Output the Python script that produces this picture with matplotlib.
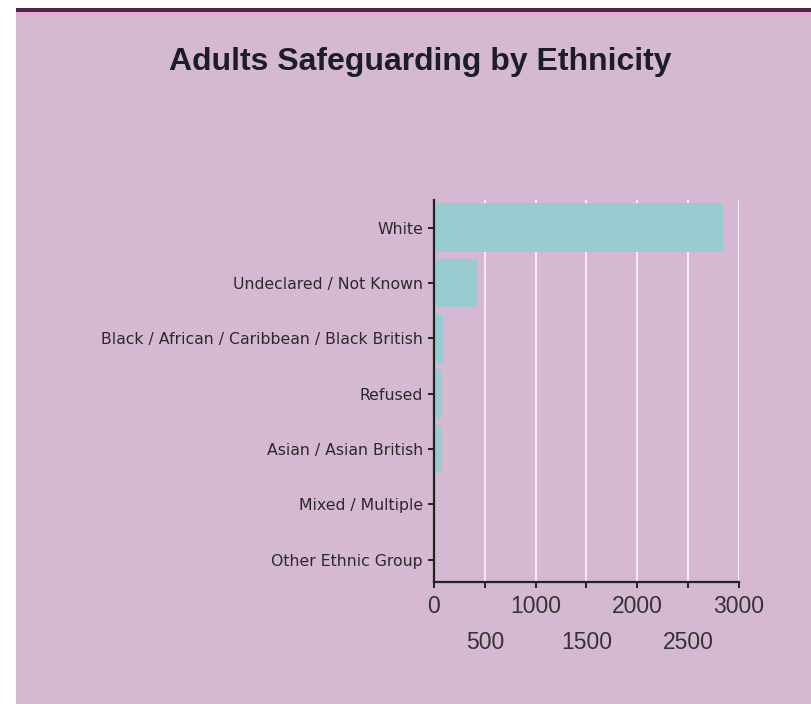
import matplotlib
matplotlib.use("Agg")
import matplotlib.pyplot as plt
from matplotlib.patches import Rectangle

# data
categories = [
    "White",
    "Undeclared / Not Known",
    "Black / African / Caribbean / Black British",
    "Refused",
    "Asian / Asian British",
    "Mixed / Multiple",
    "Other Ethnic Group",
]
counts = [2840, 430, 90, 80, 75, 20, 10]
x_ticks = [0, 500, 1000, 1500, 2000, 2500, 3000]

BG = "#d5b9d3"
BAR = "#98ccd0"

fig = plt.figure(figsize=(8.12, 7.04), dpi=100, facecolor="white")

# panel background + top border strip
fig.patches.append(Rectangle((16 / 812, 0), 1, 1 - 12 / 704, transform=fig.transFigure,
                             facecolor=BG, edgecolor="none", zorder=-10))
fig.patches.append(Rectangle((16 / 812, 1 - 12 / 704), 1, 4 / 704, transform=fig.transFigure,
                             facecolor="#4f2545", edgecolor="none", zorder=-9))
fig.patches.append(Rectangle((16 / 812, 1 - 15 / 704), 1, 3 / 704, transform=fig.transFigure,
                             facecolor="#e4a9cf", edgecolor="none", zorder=-9))

ax = fig.add_axes([434 / 812, 1 - 582 / 704, 305 / 812, 382 / 704])
ax.set_facecolor(BG)

ax.barh(range(len(categories)), counts, height=0.88, color=BAR, zorder=2)

ax.set_xlim(0, 3000)
ax.set_ylim(6.4, -0.5)
ax.set_yticks(range(len(categories)))
ax.set_yticklabels(categories, fontsize=11.3, color="#2a2a2a", family="DejaVu Sans")
ax.set_xticks(x_ticks)
ax.set_xticklabels([str(v) for v in x_ticks], fontsize=16.5, color="#333333",
                   family="Liberation Sans")

ax.grid(axis="x", color="white", linewidth=1.2, alpha=0.9, zorder=1)
ax.set_axisbelow(True)

for side in ["top", "right"]:
    ax.spines[side].set_visible(False)
for side in ["left", "bottom"]:
    ax.spines[side].set_color("#222222")
    ax.spines[side].set_linewidth(1.6)
ax.tick_params(axis="both", direction="out", length=4, width=1.4, color="#222222")
ax.tick_params(axis="x", pad=5.5)
ax.tick_params(axis="y", pad=4)

# stagger every other x label onto a second row
for i, tick in enumerate(ax.xaxis.get_major_ticks()):
    if i % 2 == 1:
        tick.set_pad(31)

fig.text(420 / 812, 1 - 62 / 704, "Adults Safeguarding by Ethnicity",
         ha="center", va="center", fontsize=23, fontweight="bold",
         family="Liberation Sans", color="#1c1c2c")

fig.savefig("out.png", dpi=100, facecolor=fig.get_facecolor())
